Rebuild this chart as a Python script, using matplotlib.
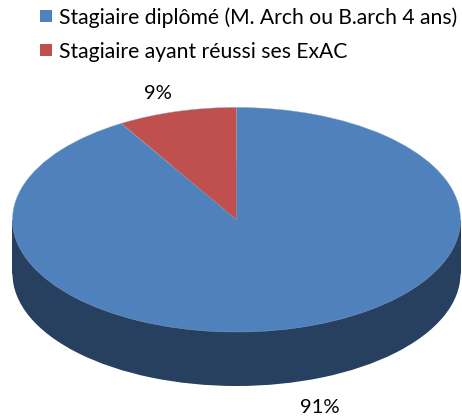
import matplotlib
matplotlib.use('Agg')
import matplotlib.pyplot as plt

# Pie data
labels = ['Stagiaire diplômé (M. Arch ou B.arch 4 ans)', 'Stagiaire ayant réussi ses ExAC']
values = [91.4, 8.6]
pct_labels = ['91%', '9%']
colors = ['#4F81BD', '#C0504D']
side_color = '#28405F'

plt.rcParams['font.family'] = ['Lato', 'DejaVu Sans']

W, H = 462, 419
fig = plt.figure(figsize=(W / 100, H / 100), dpi=100)

# full figure axes, one unit = the pie radius (squashed to look 3D)
rx, ry = 224, 112.3
cx, cy = 236.5, 219.7
depth = 54 / ry
ax = fig.add_axes([0, 0, 1, 1])

# side of the pie: a dark pie below, and a band up to the top one
ax.pie([1], colors=[side_color], radius=1, center=(0, -depth), frame=True)
ax.fill_between([-1, 1], [0, 0], [-depth, -depth], color=side_color, lw=0)

# top of the pie
wedges, _ = ax.pie(values, colors=colors, startangle=90, counterclock=False,
                   radius=1, center=(0, 0), frame=True,
                   wedgeprops={'edgecolor': '#8FA9CC', 'linewidth': 0.3})

ax.set_aspect('auto')
ax.set_xlim(-cx / rx, (W - cx) / rx)
ax.set_ylim((cy - H) / ry, cy / ry)
ax.axis('off')


def to_fig(px, py):
    return px / W, 1 - py / H


# percent labels
fig.text(*to_fig(320, 413), pct_labels[0], fontsize=14.6, color='black', ha='center', va='baseline')
fig.text(*to_fig(158, 99), pct_labels[1], fontsize=14.6, color='black', ha='center', va='baseline')

# legend
for i, y in enumerate([24, 58]):
    ax.add_patch(plt.Rectangle(to_fig(40, y - 2), 12 / W, 12 / H, transform=fig.transFigure,
                               color=colors[i], lw=0, clip_on=False))
    fig.text(*to_fig(59, y), labels[i], fontsize=15.2, color='black', ha='left', va='baseline')

fig.savefig('out.png', dpi=100)
